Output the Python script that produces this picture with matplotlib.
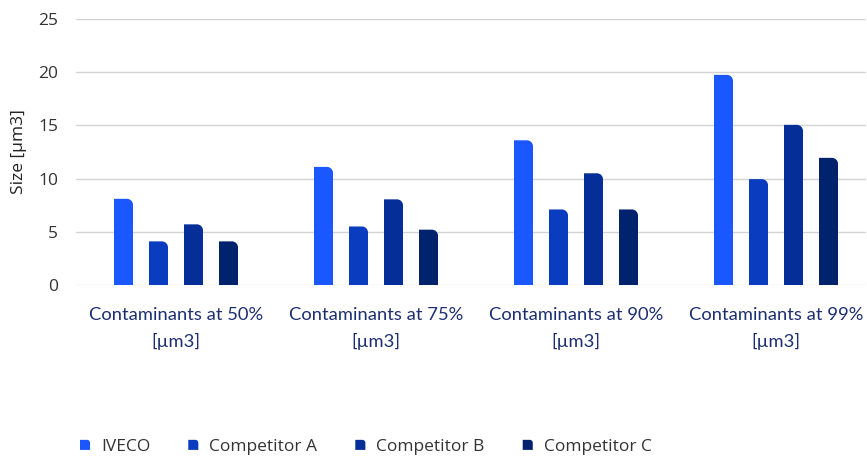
import matplotlib
matplotlib.use("Agg")
import matplotlib.pyplot as plt
import numpy as np
from matplotlib.path import Path
from matplotlib.patches import PathPatch, Rectangle
from matplotlib.legend_handler import HandlerPatch

categories = ["Contaminants at 50%\n[µm3]", "Contaminants at 75%\n[µm3]",
              "Contaminants at 90%\n[µm3]", "Contaminants at 99%\n[µm3]"]
series_names = ["IVECO", "Competitor A", "Competitor B", "Competitor C"]
iveco = [8.1, 11.1, 13.6, 19.75]
comp_a = [4.1, 5.5, 7.1, 9.95]
comp_b = [5.7, 8.05, 10.5, 15.05]
comp_c = [4.1, 5.2, 7.1, 11.95]
yticks = [0, 5, 10, 15, 20, 25]

series = [iveco, comp_a, comp_b, comp_c]
colors = ["#1a57ff", "#0a3cc0", "#052e98", "#01226c"]

plt.rcParams['font.family'] = ['Open Sans', 'DejaVu Sans']

fig = plt.figure(figsize=(8.67, 4.57), dpi=100)
W, H = 867, 457
ax = fig.add_axes([76 / W, 1 - 285 / H, 790 / W, (285 - 19) / H])
ax.set_xlim(-0.5, 3.45)
ax.set_ylim(0, 25)

bar_w = 0.095
step = 0.175
x = np.arange(len(categories))

px_x = 790 / 3.95
px_y = 266 / 25.0
r_px = 6.0
rx = r_px / px_x
ry = r_px / px_y
k = 0.5523


def rounded_path(x0, y0, w, h, rx, ry):
    ryy = min(ry, h)
    verts = [(x0, y0), (x0, y0 + h), (x0 + w - rx, y0 + h),
             (x0 + w - rx + k * rx, y0 + h), (x0 + w, y0 + h - (1 - k) * ryy),
             (x0 + w, y0 + h - ryy), (x0 + w, y0), (x0, y0)]
    codes = [Path.MOVETO, Path.LINETO, Path.LINETO, Path.CURVE4, Path.CURVE4,
             Path.CURVE4, Path.LINETO, Path.CLOSEPOLY]
    return Path(verts, codes)


for i, (vals, c) in enumerate(zip(series, colors)):
    offs = (i - 1.5) * step
    bars = ax.bar(x + offs, vals, width=bar_w, color=c, label=series_names[i])
    for b in bars:
        b.set_visible(False)
        p = rounded_path(b.get_x(), b.get_y(), b.get_width(), b.get_height(), rx, ry)
        ax.add_patch(PathPatch(p, facecolor=c, edgecolor='none', zorder=3))

ax.set_yticks(yticks)
ax.yaxis.grid(True, color="#d3d3d3", linewidth=1.0)
ax.set_axisbelow(True)
for s in ax.spines.values():
    s.set_visible(False)
ax.tick_params(axis='both', length=0)
ax.tick_params(axis='y', labelsize=12.5, labelcolor="#333333", pad=13)
ax.set_xticks(x)
ax.set_xticklabels(categories, fontsize=13.2, color="#1d2e72", linespacing=1.7,
                   family=['Lato', 'DejaVu Sans'])
ax.tick_params(axis='x', pad=16)
ax.set_ylabel("Size [µm3]", fontsize=12.5, color="#222222", labelpad=8)


class RoundHandler(HandlerPatch):
    def create_artists(self, legend, orig_handle, xdescent, ydescent, width,
                       height, fontsize, trans):
        s = min(width, height)
        x0 = -xdescent + (width - s) / 2
        y0 = -ydescent + (height - s) / 2
        p = rounded_path(x0, y0, s, s, s * 0.3, s * 0.3)
        pp = PathPatch(p, facecolor=orig_handle.get_facecolor(), edgecolor='none',
                       transform=trans)
        return [pp]


handles = [Rectangle((0, 0), 1, 1, facecolor=c) for c in colors]
leg = fig.legend(handles, series_names, loc='center left',
                 bbox_to_anchor=(80 / W, 1 - 447 / H), ncol=4, frameon=False,
                 handler_map={Rectangle: RoundHandler()}, fontsize=12.5,
                 handlelength=0.58, handleheight=0.58, handletextpad=0.62,
                 columnspacing=2.2, borderpad=0, borderaxespad=0)
for t in leg.get_texts():
    t.set_color("#333333")

fig.savefig("out.png", dpi=100)
